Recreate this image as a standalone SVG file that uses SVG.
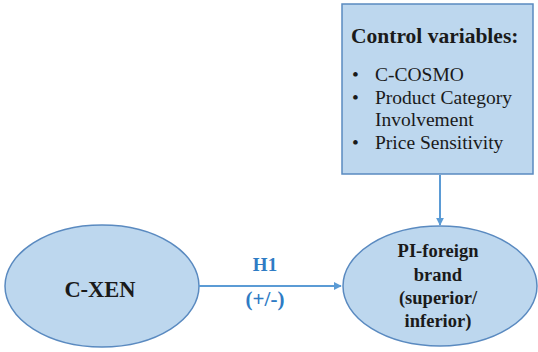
<svg xmlns="http://www.w3.org/2000/svg" width="538" height="352" viewBox="0 0 538 352">
<style>
.shape{fill:#BDD7EE;stroke:#5A8AC0;stroke-width:1.5}
.t{font-family:"Liberation Serif","Times New Roman",serif;fill:#1a1a1a}
.b{font-weight:bold}
.lbl{font-family:"Liberation Serif","Times New Roman",serif;font-weight:bold;fill:#2E7BC4;text-anchor:middle}
.conn{stroke:#5B9BD5;stroke-width:2;fill:none}
</style>
<defs>
<marker id="ah" viewBox="0 0 10 10" refX="9" refY="5" markerWidth="4" markerHeight="4" orient="auto">
<path d="M0,0 L10,5 L0,10 z" fill="#5B9BD5"/>
</marker>
</defs>
<rect width="538" height="352" fill="#ffffff"/>
<g id="control">
<rect class="shape" x="342" y="4" width="191" height="170"/>
<text class="t b" x="351" y="43" font-size="21.5">Control variables:</text>
<g class="t" font-size="19.5">
<text x="352" y="81">•</text><text x="375" y="81">C-COSMO</text>
<text x="352" y="104">•</text><text x="375" y="104">Product Category</text>
<text x="375" y="126">Involvement</text>
<text x="352" y="149">•</text><text x="375" y="149">Price Sensitivity</text>
</g>
</g>
<g id="cxen">
<ellipse class="shape" cx="102" cy="286" rx="97" ry="61"/>
<text class="t b" x="100" y="297" font-size="22.5" text-anchor="middle">C-XEN</text>
</g>
<g id="pi">
<ellipse class="shape" cx="440" cy="286" rx="97" ry="60"/>
<g class="t b" font-size="18.5" text-anchor="middle">
<text x="438" y="257">PI-foreign</text>
<text x="438" y="281">brand</text>
<text x="438" y="304">(superior/</text>
<text x="438" y="327">inferior)</text>
</g>
</g>
<g id="connectors">
<line class="conn" x1="199" y1="286" x2="341" y2="286" marker-end="url(#ah)"/>
<line class="conn" x1="440" y1="175" x2="440" y2="225" stroke-width="1.5" marker-end="url(#ah)"/>
<text class="lbl" x="265" y="271" font-size="19">H1</text>
<text class="lbl" x="265" y="306" font-size="21">(+/-)</text>
</g>
</svg>
